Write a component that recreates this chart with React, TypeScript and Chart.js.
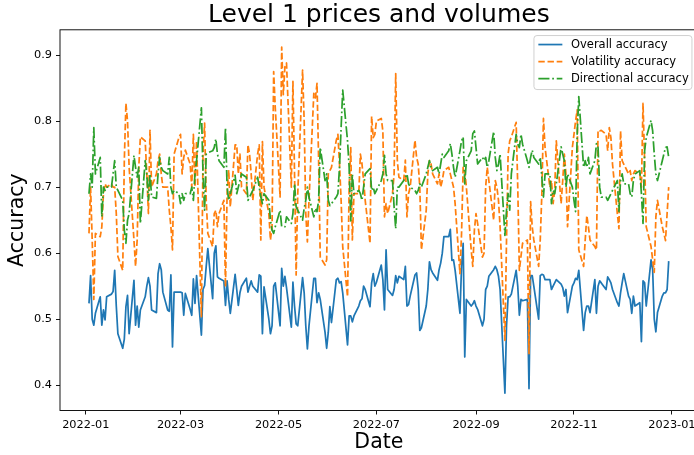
import React, { useEffect, useRef } from "react";
import { Chart, registerables } from "chart.js";

Chart.register(...registerables);

const FONT = "'DejaVu Sans', 'Noto Sans', sans-serif";

const TITLE = "Level 1 prices and volumes";
const X_LABEL = "Date";
const Y_LABEL = "Accuracy";
const SERIES_NAMES = ["Overall accuracy", "Volatility accuracy", "Directional accuracy"];
const SERIES_COLORS = ["#1f77b4", "#ff7f0e", "#2ca02c"];

// x ticks: days since 2022-01-01
const X_TICK_DAYS = [0, 59, 120, 181, 243, 304, 365];
const X_TICK_LABELS = ["2022-01", "2022-03", "2022-05", "2022-07", "2022-09", "2022-11", "2023-01"];
const Y_TICKS = [0.4, 0.5, 0.6, 0.7, 0.8, 0.9];

// business days of 2022 (Mon 2022-01-03 .. Fri 2022-12-30), as days since 2022-01-01
const FIRST_DAY = "2022-01-03";
const N_DAYS = 260;
function tradingDays(): number[] {
  const base = Date.UTC(2022, 0, 1);
  const out: number[] = [];
  let t = Date.parse(FIRST_DAY + "T00:00:00Z");
  while (out.length < N_DAYS) {
    const wd = new Date(t).getUTCDay();
    if (wd !== 0 && wd !== 6) out.push(Math.round((t - base) / 86400000));
    t += 86400000;
  }
  return out;
}
const DAYS = tradingDays();

const overall = [
  0.524, 0.566, 0.500, 0.491, 0.509,
  0.534, 0.491, 0.514, 0.499, 0.534,
  0.538, 0.542, 0.574, 0.520, 0.478,
  0.456, 0.470, 0.519, 0.536, 0.478,
  0.559, 0.491, 0.520, 0.488, 0.514,
  0.534, 0.550, 0.563, 0.550, 0.514,
  0.510, 0.569, 0.584, 0.575, 0.541,
  0.514, 0.512, 0.567, 0.458, 0.541,
  0.541, 0.541, 0.540, 0.506, 0.539,
  0.515, 0.506, 0.561, 0.524, 0.566,
  0.476, 0.545, 0.551, 0.580, 0.607,
  0.531, 0.600, 0.611, 0.564, 0.562,
  0.558, 0.521, 0.558, 0.530, 0.509,
  0.568, 0.545, 0.521, 0.540, 0.550,
  0.562, 0.541, 0.550, 0.558, 0.550,
  0.541, 0.567, 0.565, 0.478, 0.549,
  0.500, 0.478, 0.490, 0.550, 0.555,
  0.490, 0.577, 0.550, 0.565, 0.548,
  0.488, 0.556, 0.520, 0.493, 0.490,
  0.563, 0.540, 0.490, 0.455, 0.490,
  0.562, 0.562, 0.525, 0.540, 0.530,
  0.480, 0.456, 0.480, 0.519, 0.495,
  0.560, 0.562, 0.555, 0.557, 0.540,
  0.461, 0.505, 0.505, 0.496, 0.505,
  0.520, 0.528, 0.531, 0.550, 0.545,
  0.519, 0.555, 0.569, 0.550, 0.556,
  0.582, 0.560, 0.514, 0.605, 0.545,
  0.536, 0.545, 0.566, 0.555, 0.565,
  0.560, 0.580, 0.520, 0.522, 0.535,
  0.567, 0.570, 0.545, 0.483, 0.487,
  0.520, 0.545, 0.587, 0.575, 0.570,
  0.559, 0.575, 0.585, 0.600, 0.625,
  0.625, 0.636, 0.589, 0.590, 0.574,
  0.509, 0.580, 0.615, 0.443, 0.530,
  0.520, 0.523, 0.528, 0.520, 0.515,
  0.490, 0.500, 0.545, 0.550, 0.565,
  0.575, 0.580, 0.575, 0.565, 0.545,
  0.388, 0.490, 0.534, 0.534, 0.538,
  0.574, 0.550, 0.506, 0.530, 0.528,
  0.530, 0.395, 0.566, 0.566, 0.550,
  0.500, 0.566, 0.568, 0.567, 0.560,
  0.560, 0.545, 0.550, 0.555, 0.560,
  0.553, 0.548, 0.535, 0.545, 0.510,
  0.550, 0.555, 0.562, 0.560, 0.574,
  0.483, 0.510, 0.520, 0.520, 0.510,
  0.560, 0.509, 0.550, 0.558, 0.555,
  0.545, 0.564, 0.560, 0.555, 0.545,
  0.525, 0.520, 0.540, 0.555, 0.569,
  0.535, 0.530, 0.509, 0.535, 0.520,
  0.525, 0.466, 0.558, 0.555, 0.520,
  0.590, 0.575, 0.500, 0.481, 0.510,
  0.535, 0.540, 0.540, 0.545, 0.588,
];

const volatility = [
  0.630, 0.700, 0.620, 0.530, 0.630,
  0.625, 0.640, 0.690, 0.705, 0.700,
  0.705, 0.700, 0.700, 0.660, 0.595,
  0.574, 0.740, 0.827, 0.800, 0.730,
  0.620, 0.580, 0.620, 0.730, 0.776,
  0.770, 0.720, 0.660, 0.786, 0.700,
  0.720, 0.740, 0.750, 0.720, 0.700,
  0.700, 0.665, 0.640, 0.605, 0.750,
  0.775, 0.780, 0.720, 0.745, 0.756,
  0.735, 0.700, 0.780, 0.700, 0.770,
  0.504, 0.750, 0.797, 0.680, 0.630,
  0.610, 0.660, 0.665, 0.640, 0.660,
  0.680, 0.549, 0.690, 0.726, 0.670,
  0.764, 0.764, 0.720, 0.750, 0.700,
  0.690, 0.764, 0.750, 0.720, 0.680,
  0.750, 0.764, 0.620, 0.769, 0.700,
  0.660, 0.620, 0.640, 0.875, 0.820,
  0.685, 0.912, 0.840, 0.882, 0.888,
  0.700, 0.860, 0.720, 0.567, 0.690,
  0.877, 0.800, 0.660, 0.617, 0.680,
  0.842, 0.835, 0.857, 0.740, 0.594,
  0.582, 0.590, 0.720, 0.725, 0.730,
  0.771, 0.780, 0.735, 0.680, 0.610,
  0.534, 0.700, 0.760, 0.620, 0.690,
  0.690, 0.750, 0.735, 0.710, 0.680,
  0.615, 0.807, 0.775, 0.780, 0.800,
  0.804, 0.785, 0.655, 0.675, 0.660,
  0.690, 0.720, 0.872, 0.740, 0.715,
  0.710, 0.741, 0.655, 0.690, 0.700,
  0.771, 0.745, 0.735, 0.700, 0.605,
  0.665, 0.720, 0.740, 0.735, 0.720,
  0.705, 0.720, 0.700, 0.710, 0.725,
  0.730, 0.720, 0.710, 0.700, 0.675,
  0.569, 0.630, 0.730, 0.725, 0.700,
  0.605, 0.580, 0.635, 0.660, 0.645,
  0.594, 0.600, 0.700, 0.730, 0.710,
  0.650, 0.710, 0.700, 0.680, 0.640,
  0.468, 0.620, 0.750, 0.770, 0.776,
  0.798, 0.700, 0.574, 0.595, 0.615,
  0.620, 0.448, 0.678, 0.640, 0.620,
  0.580, 0.620, 0.690, 0.804, 0.760,
  0.700, 0.710, 0.675, 0.695, 0.770,
  0.675, 0.710, 0.750, 0.720, 0.640,
  0.760, 0.780, 0.800, 0.817, 0.605,
  0.580, 0.620, 0.657, 0.640, 0.620,
  0.610, 0.605, 0.786, 0.785, 0.786,
  0.780, 0.755, 0.790, 0.775, 0.735,
  0.660, 0.637, 0.785, 0.740, 0.735,
  0.720, 0.725, 0.710, 0.720, 0.725,
  0.720, 0.700, 0.827, 0.740, 0.640,
  0.610, 0.590, 0.571, 0.655, 0.680,
  0.640, 0.630, 0.619, 0.660, 0.700,
];

const directional = [
  0.690, 0.720, 0.700, 0.790, 0.720,
  0.745, 0.655, 0.700, 0.695, 0.700,
  0.700, 0.720, 0.740, 0.700, 0.695,
  0.680, 0.635, 0.615, 0.650, 0.660,
  0.748, 0.730, 0.715, 0.730, 0.645,
  0.740, 0.720, 0.680, 0.720, 0.685,
  0.683, 0.720, 0.745, 0.730, 0.725,
  0.720, 0.745, 0.700, 0.690, 0.695,
  0.690, 0.675, 0.690, 0.680, 0.690,
  0.690, 0.700, 0.680, 0.720, 0.740,
  0.820, 0.720, 0.665, 0.750, 0.752,
  0.755, 0.760, 0.773, 0.750, 0.740,
  0.730, 0.790, 0.700, 0.680, 0.690,
  0.718, 0.690, 0.700, 0.710, 0.720,
  0.715, 0.680, 0.685, 0.690, 0.695,
  0.715, 0.700, 0.685, 0.675, 0.690,
  0.680, 0.650, 0.635, 0.630, 0.640,
  0.665, 0.640, 0.640, 0.640, 0.655,
  0.645, 0.660, 0.705, 0.670, 0.665,
  0.650, 0.668, 0.680, 0.700, 0.685,
  0.655, 0.668, 0.663, 0.680, 0.760,
  0.710, 0.720, 0.680, 0.672, 0.675,
  0.685, 0.690, 0.730, 0.790, 0.847,
  0.770, 0.730, 0.649, 0.720, 0.690,
  0.695, 0.690, 0.680, 0.700, 0.720,
  0.728, 0.695, 0.700, 0.690, 0.695,
  0.710, 0.720, 0.748, 0.720, 0.710,
  0.710, 0.670, 0.637, 0.700, 0.700,
  0.710, 0.715, 0.720, 0.705, 0.700,
  0.695, 0.690, 0.695, 0.705, 0.700,
  0.720, 0.730, 0.740, 0.730, 0.725,
  0.730, 0.720, 0.735, 0.750, 0.745,
  0.755, 0.766, 0.750, 0.730, 0.715,
  0.755, 0.770, 0.776, 0.705, 0.740,
  0.755, 0.781, 0.785, 0.760, 0.735,
  0.745, 0.740, 0.745, 0.730, 0.740,
  0.784, 0.745, 0.725, 0.735, 0.750,
  0.627, 0.665, 0.690, 0.665, 0.720,
  0.780, 0.765, 0.760, 0.780, 0.765,
  0.740, 0.730, 0.745, 0.756, 0.745,
  0.735, 0.745, 0.715, 0.685, 0.720,
  0.720, 0.675, 0.695, 0.690, 0.705,
  0.761, 0.750, 0.740, 0.700, 0.720,
  0.700, 0.680, 0.663, 0.780, 0.837,
  0.730, 0.740, 0.730, 0.745, 0.720,
  0.740, 0.766, 0.760, 0.700, 0.685,
  0.685, 0.680, 0.685, 0.690, 0.695,
  0.710, 0.663, 0.710, 0.720, 0.705,
  0.705, 0.690, 0.685, 0.710, 0.720,
  0.725, 0.690, 0.645, 0.755, 0.775,
  0.801, 0.785, 0.750, 0.720, 0.710,
  0.740, 0.750, 0.760, 0.761, 0.745,
];

const LW = 1.73;
const DASHES: number[][] = [[], [6.4, 2.77], [11.1, 2.77, 1.73, 2.77]];

const CANVAS_W = 720;
const CANVAS_H = 455;
const PLOT_LEFT = 60;
const PLOT_RIGHT = 697.7;
const PLOT_TOP = 29.8;
const PLOT_BOTTOM = 410.5;

const framePlugin = {
  id: "frame",
  afterDatasetsDraw(chart: any) {
    const { ctx, chartArea: a } = chart;
    ctx.save();
    ctx.strokeStyle = "#000";
    ctx.lineWidth = 0.92;
    ctx.strokeRect(a.left, a.top, a.right - a.left, a.bottom - a.top);
    ctx.restore();
  },
};

const titlePlugin = {
  id: "mplTitle",
  afterDraw(chart: any) {
    const { ctx, chartArea: a } = chart;
    ctx.save();
    ctx.fillStyle = "#000";
    ctx.font = `25px ${FONT}`;
    ctx.textAlign = "center";
    ctx.textBaseline = "alphabetic";
    ctx.fillText(TITLE, (a.left + a.right) / 2, a.top - 8.1);
    ctx.restore();
  },
};

const legendPlugin = {
  id: "mplLegend",
  afterDraw(chart: any) {
    const { ctx, chartArea: a } = chart;
    const right = a.right - 5.75;
    const top = a.top + 5.75;
    const w = 158;
    const h = 54;
    const left = right - w;
    ctx.save();
    ctx.beginPath();
    const r = 3;
    ctx.moveTo(left + r, top);
    ctx.lineTo(right - r, top);
    ctx.arcTo(right, top, right, top + r, r);
    ctx.lineTo(right, top + h - r);
    ctx.arcTo(right, top + h, right - r, top + h, r);
    ctx.lineTo(left + r, top + h);
    ctx.arcTo(left, top + h, left, top + h - r, r);
    ctx.lineTo(left, top + r);
    ctx.arcTo(left, top, left + r, top, r);
    ctx.closePath();
    ctx.fillStyle = "rgba(255,255,255,0.8)";
    ctx.fill();
    ctx.strokeStyle = "#cccccc";
    ctx.lineWidth = 0.92;
    ctx.stroke();
    ctx.font = `11.5px ${FONT}`;
    ctx.textBaseline = "middle";
    ctx.textAlign = "left";
    for (let i = 0; i < SERIES_NAMES.length; i++) {
      const y = top + 9 + i * 17;
      ctx.beginPath();
      ctx.setLineDash(DASHES[i]);
      ctx.lineCap = "butt";
      ctx.strokeStyle = SERIES_COLORS[i];
      ctx.lineWidth = LW;
      ctx.moveTo(left + 4.4, y);
      ctx.lineTo(left + 28.4, y);
      ctx.stroke();
      ctx.setLineDash([]);
      ctx.fillStyle = "#000";
      ctx.fillText(SERIES_NAMES[i], left + 37, y + 0.5);
    }
    ctx.restore();
  },
};

export default function App() {
  const ref = useRef<HTMLCanvasElement | null>(null);
  useEffect(() => {
    if (!ref.current) return;
    const series = [overall, volatility, directional];
    const chart = new Chart(ref.current, {
      type: "line",
      data: {
        datasets: series.map((vals, i) => ({
          label: SERIES_NAMES[i],
          data: vals.map((v, j) => ({ x: DAYS[j], y: v })),
          borderColor: SERIES_COLORS[i],
          backgroundColor: SERIES_COLORS[i],
          borderWidth: LW,
          borderDash: DASHES[i],
          borderCapStyle: "butt",
          borderJoinStyle: "round",
          pointRadius: 0,
          pointHoverRadius: 0,
          tension: 0,
          fill: false,
          order: 3 - i,
        })),
      },
      options: {
        animation: false,
        responsive: false,
        devicePixelRatio: 1,
        events: [],
        layout: {
          padding: { left: 0, top: PLOT_TOP, right: CANVAS_W - PLOT_RIGHT, bottom: 0 },
        },
        plugins: {
          legend: { display: false },
          title: { display: false },
          tooltip: { enabled: false },
        },
        scales: {
          x: {
            type: "linear",
            min: -16.05,
            max: 381.05,
            afterBuildTicks: (s: any) => {
              s.ticks = X_TICK_DAYS.map((v) => ({ value: v }));
            },
            afterFit: (s: any) => {
              s.height = CANVAS_H - PLOT_BOTTOM;
            },
            ticks: {
              autoSkip: false,
              maxRotation: 0,
              color: "#000",
              padding: 4,
              font: { family: FONT, size: 11.3 },
              callback: (v: any) => {
                const k = X_TICK_DAYS.indexOf(Number(v));
                return k >= 0 ? X_TICK_LABELS[k] : "";
              },
            },
            grid: { drawOnChartArea: false, drawTicks: true, tickLength: 4, color: "#000", lineWidth: 0.92 },
            border: { display: false },
            title: {
              display: true,
              text: X_LABEL,
              color: "#000",
              font: { family: FONT, size: 20.5 },
              padding: { top: 0, bottom: 0 },
            },
          },
          y: {
            type: "linear",
            min: 0.3618,
            max: 0.9382,
            afterBuildTicks: (s: any) => {
              s.ticks = Y_TICKS.map((v) => ({ value: v }));
            },
            afterFit: (s: any) => {
              s.width = PLOT_LEFT;
            },
            ticks: {
              color: "#000",
              padding: 4,
              font: { family: FONT, size: 11.3 },
              callback: (v: any) => Number(v).toFixed(1),
            },
            grid: { drawOnChartArea: false, drawTicks: true, tickLength: 4, color: "#000", lineWidth: 0.92 },
            border: { display: false },
            title: {
              display: true,
              text: Y_LABEL,
              color: "#000",
              font: { family: FONT, size: 20.5 },
              padding: { top: 5.5, bottom: 0 },
            },
          },
        },
      },
      plugins: [framePlugin, titlePlugin, legendPlugin],
    } as any);
    return () => chart.destroy();
  }, []);

  return (
    <div
      style={{
        position: "fixed",
        left: 0,
        top: 0,
        width: 694,
        height: CANVAS_H,
        overflow: "hidden",
        background: "#fff",
      }}
    >
      <canvas
        ref={ref}
        width={CANVAS_W}
        height={CANVAS_H}
        style={{ width: CANVAS_W, height: CANVAS_H, display: "block" }}
      />
    </div>
  );
}
